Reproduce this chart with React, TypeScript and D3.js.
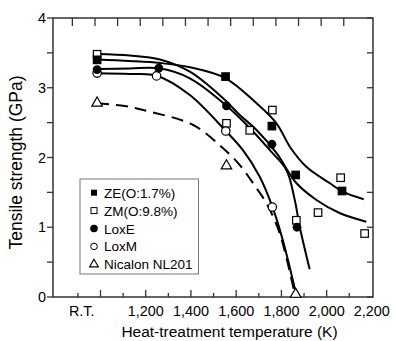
import React from 'react';
import * as d3 from 'd3';

// measured points (temperature K, strength GPa); R.T. is plotted at ~985 K
const zeK = [985, 1553, 1758, 1863, 2068];
const zeV = [3.4, 3.16, 2.45, 1.75, 1.52];
const zmK = [985, 1557, 1660, 1760, 1866, 1962, 2062, 2168];
const zmV = [3.48, 2.49, 2.39, 2.68, 1.1, 1.21, 1.71, 0.91];
const loxEK = [985, 1258, 1557, 1758, 1869];
const loxEV = [3.26, 3.28, 2.74, 2.19, 1.0];
const loxMK = [985, 1248, 1554, 1760];
const loxMV = [3.21, 3.17, 2.38, 1.29];
const nicK = [985, 1557, 1863];
const nicV = [2.78, 1.88, 0.04];

// fitted curves
const zeCurve: [number, number][] = [
  [985, 3.405], [1130, 3.384], [1263, 3.355], [1395, 3.293], [1553, 3.136], [1690, 2.777],
  [1778, 2.49], [1841, 2.136], [1910, 1.868], [2013, 1.634], [2071, 1.51], [2164, 1.401],
];
const zmCurve: [number, number][] = [
  [985, 3.484], [1130, 3.462], [1263, 3.405], [1395, 3.23], [1541, 2.853], [1616, 2.609],
  [1690, 2.394], [1778, 2.065], [1866, 1.634], [1955, 1.391], [2057, 1.204], [2175, 1.08],
];
const loxECurve: [number, number][] = [
  [985, 3.269], [1130, 3.276], [1258, 3.279], [1395, 3.136], [1557, 2.743], [1660, 2.423],
  [1748, 2.108], [1822, 1.821], [1859, 1.391], [1881, 1.008], [1925, 0.397],
];
const loxMCurve: [number, number][] = [
  [985, 3.207], [1130, 3.197], [1249, 3.173], [1395, 2.896], [1554, 2.38], [1629, 2.108],
  [1704, 1.725], [1760, 1.295], [1806, 0.817], [1866, 0.029],
];
const nicCurve: [number, number][] = [
  [985, 2.777], [1108, 2.738], [1219, 2.657], [1410, 2.466], [1542, 2.132], [1616, 1.892],
  [1675, 1.63], [1734, 1.343], [1792, 0.918], [1858, 0.057],
];

const xTickLabels = ['R.T.', '1,200', '1,400', '1,600', '1,800', '2,000', '2,200'];
const xTickValues = [917, 1200, 1400, 1600, 1800, 2000, 2200];
const xMinorTicks = d3.range(900, 2200, 100);
const yTickLabels = ['0', '1', '2', '3', '4'];
const yTicks = d3.range(0, 4.01, 0.5);

const legendItems = ['ZE(O:1.7%)', 'ZM(O:9.8%)', 'LoxE', 'LoxM', 'Nicalon NL201'];

const W = 396;
const H = 341;
const left = 53, right = 373, top = 18, bottom = 297;
const topTickShift = -5.5;
const font = '"Liberation Sans", Arial, Helvetica, sans-serif';

const x = d3.scaleLinear().domain([790, 2205]).range([left, right]);
const y = d3.scaleLinear().domain([0, 4]).range([bottom, top]);

const line = d3
  .line<[number, number]>()
  .x((d) => x(d[0]))
  .y((d) => y(d[1]))
  .curve(d3.curveCatmullRom);

const tri = (size: number) => d3.symbol(d3.symbolTriangle, size)() as string;

const Square = ({ cx, cy, s, filled }: { cx: number; cy: number; s: number; filled: boolean }) => (
  <rect
    x={cx - s / 2}
    y={cy - s / 2}
    width={s}
    height={s}
    fill={filled ? '#000' : '#fff'}
    stroke="#000"
    strokeWidth={1.2}
  />
);

const App = () => {
  return (
    <svg width={W} height={H} style={{ position: 'absolute', left: 0, top: 0 }} fontFamily={font}>
      <rect width={W} height={H} fill="#fff" />

      {/* curves */}
      <g fill="none" stroke="#000" strokeWidth={2}>
        <path d={line(zeCurve) || ''} />
        <path d={line(zmCurve) || ''} />
        <path d={line(loxECurve) || ''} />
        <path d={line(loxMCurve) || ''} />
        <path d={line(nicCurve) || ''} strokeDasharray="12,7" />
      </g>

      {/* frame */}
      <rect x={left} y={top} width={right - left} height={bottom - top} fill="none" stroke="#333" strokeWidth={1.5} />

      {/* ticks */}
      <g stroke="#333" strokeWidth={1.3}>
        {xMinorTicks.map((t) => (
          <line key={'b' + t} x1={x(t)} x2={x(t)} y1={bottom} y2={bottom - (t % 200 === 0 ? 7 : 4)} />
        ))}
        {xMinorTicks.map((t) => (
          <line key={'t' + t} x1={x(t) + topTickShift} x2={x(t) + topTickShift} y1={top} y2={top + 8} />
        ))}
        {yTicks.map((t) => (
          <line key={'l' + t} x1={left - 6} x2={left} y1={y(t)} y2={y(t)} />
        ))}
        {yTicks.map((t) => (
          <line key={'r' + t} x1={right - 6} x2={right} y1={y(t)} y2={y(t)} />
        ))}
      </g>

      {/* tick labels */}
      <g fontSize={14.4} fill="#000">
        {xTickLabels.map((l, i) => (
          <text key={l} x={x(xTickValues[i])} y={316} textAnchor="middle">
            {l}
          </text>
        ))}
        {yTickLabels.map((l, i) => (
          <text key={l} x={46} y={y(i) + 5} textAnchor="end">
            {l}
          </text>
        ))}
      </g>

      <text x={229.5} y={337} fontSize={15.5} textAnchor="middle">
        Heat-treatment temperature (K)
      </text>
      <text transform={`translate(22,162.5) rotate(-90)`} fontSize={17.5} textAnchor="middle">
        Tensile strength (GPa)
      </text>

      {/* markers */}
      {nicK.map((k, i) => (
        <path key={'n' + i} d={tri(48)} transform={`translate(${x(k)},${y(nicV[i])})`} fill="#fff" stroke="#000" strokeWidth={1.2} />
      ))}
      {zmK.map((k, i) => (
        <Square key={'zm' + i} cx={x(k)} cy={y(zmV[i])} s={7.5} filled={false} />
      ))}
      {zeK.map((k, i) => (
        <Square key={'ze' + i} cx={x(k)} cy={y(zeV[i])} s={7.5} filled={true} />
      ))}
      {loxMK.map((k, i) => (
        <circle key={'lm' + i} cx={x(k)} cy={y(loxMV[i])} r={4.2} fill="#fff" stroke="#000" strokeWidth={1.2} />
      ))}
      {loxEK.map((k, i) => (
        <circle key={'le' + i} cx={x(k)} cy={y(loxEV[i])} r={4.4} fill="#000" />
      ))}

      {/* legend */}
      <g>
        <rect x={80} y={179} width={118.5} height={95} fill="#fff" stroke="#777" strokeWidth={1} />
        {legendItems.map((l, i) => {
          const cy = 192.7 + i * 17.9;
          const cx = 94;
          let marker;
          if (i === 0) marker = <rect x={cx - 3} y={cy - 3} width={6} height={6} fill="#000" />;
          else if (i === 1) marker = <rect x={cx - 3} y={cy - 3} width={6} height={6} fill="#fff" stroke="#000" strokeWidth={1} />;
          else if (i === 2) marker = <circle cx={cx} cy={cy} r={3.8} fill="#000" />;
          else if (i === 3) marker = <circle cx={cx} cy={cy} r={3.3} fill="#fff" stroke="#000" strokeWidth={1} />;
          else marker = <path d={tri(34)} transform={`translate(${cx},${cy})`} fill="#fff" stroke="#000" strokeWidth={1.1} />;
          return (
            <g key={l}>
              {marker}
              <text x={104} y={cy + 5} fontSize={13.5}>
                {l}
              </text>
            </g>
          );
        })}
      </g>
    </svg>
  );
};

export default App;
